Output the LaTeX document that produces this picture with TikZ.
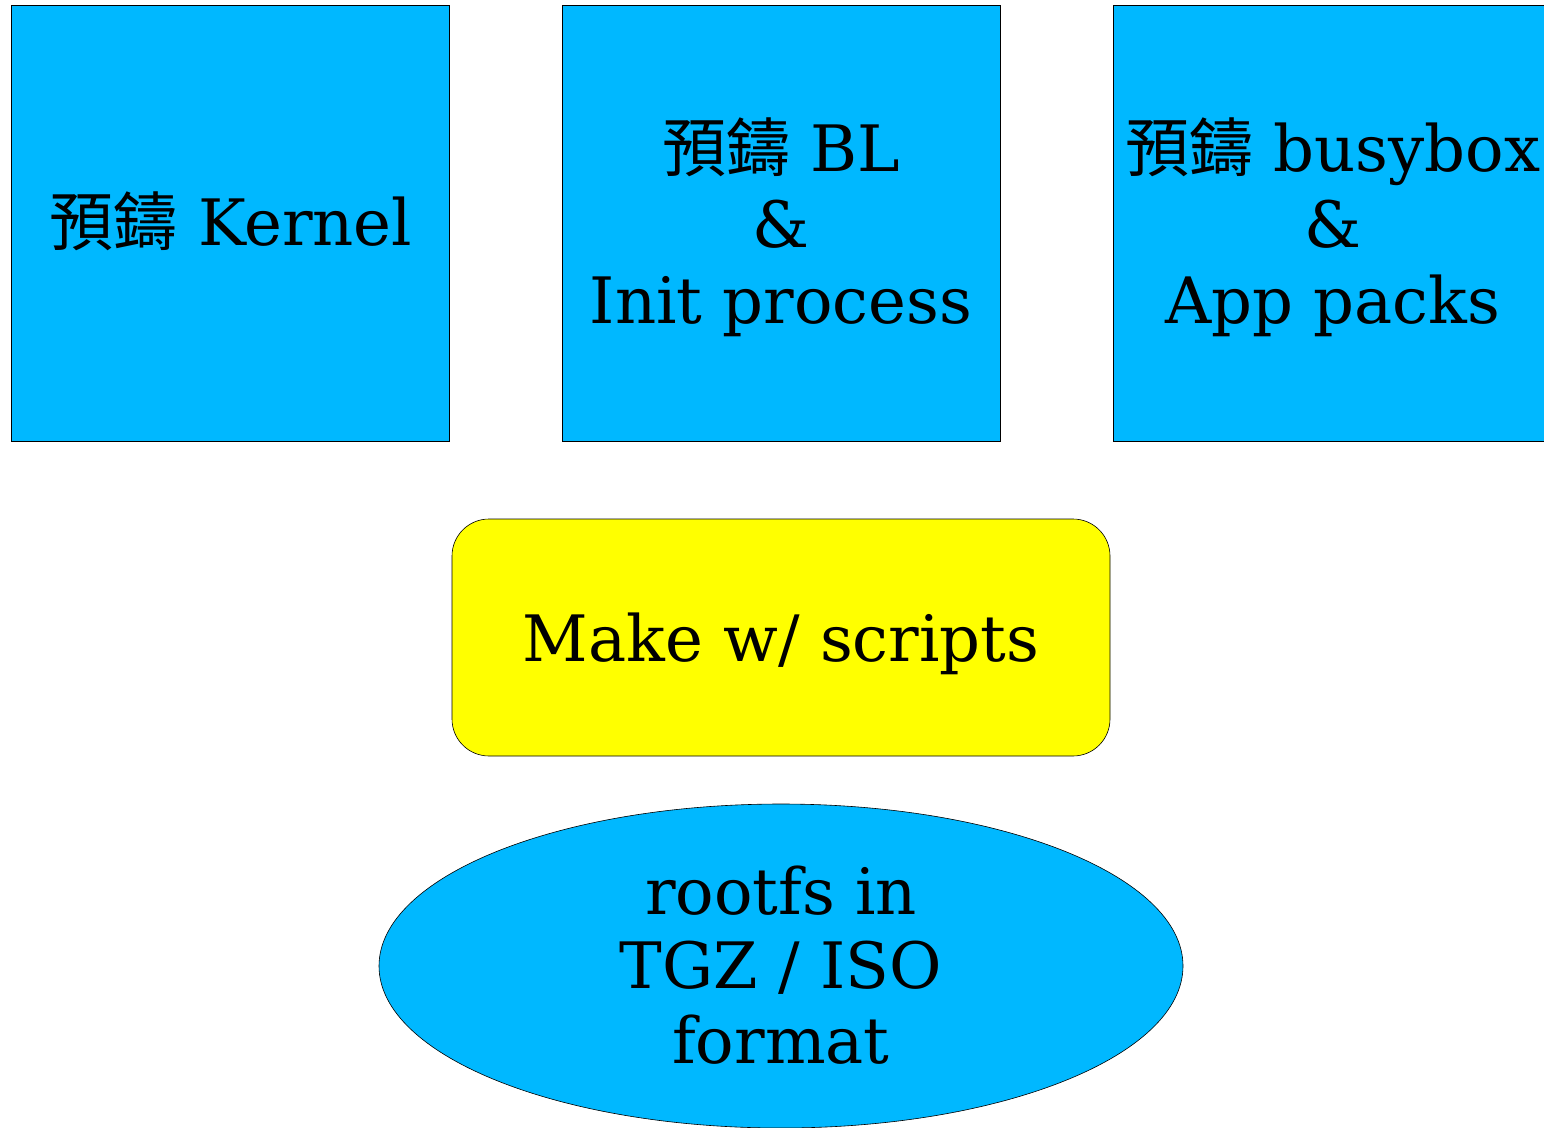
\documentclass[tikz,border=0pt]{standalone}
\usepackage{fontspec}
\setmainfont{DejaVu Serif}
\newfontfamily\cjk{Noto Sans CJK TC}
\usetikzlibrary{shapes.geometric}
\definecolor{skyfill}{HTML}{00B8FF}
\definecolor{yelfill}{HTML}{FFFF00}
\newcommand{\lines}[2][76]{\parbox[t]{700pt}{\centering\fontsize{64}{#1}\selectfont #2}}
\begin{document}
\begin{tikzpicture}[x=1pt,y=-1pt,
  bigtext/.style={anchor=base, inner sep=0pt, text=black, font=\fontsize{64}{76}\selectfont},
  bluebox/.style={rectangle, draw=black, line width=0.8pt, fill=skyfill, minimum width=438pt, minimum height=436pt, inner sep=0pt},
  makebox/.style={rectangle, rounded corners=37pt, draw=black, line width=0.6pt, fill=yelfill, minimum width=658pt, minimum height=237pt, inner sep=0pt},
  outblob/.style={ellipse, draw=black, line width=0.6pt, fill=skyfill, minimum width=804pt, minimum height=324pt, inner sep=0pt}]
\useasboundingbox (0,0) rectangle (1544,1127);
\clip (0,0) rectangle (1544,1127);
\node[bluebox] (kernel) at (230,223) {};
\node[bluebox] (bl) at (781,223) {};
\node[bluebox] (busy) at (1332,223) {};
\node[makebox] (make) at (781,637.5) {};
\node[outblob] (rootfs) at (781,966) {};
\node[bigtext] (kerneltext) at (231,245) {\lines{{\cjk 預鑄} Kernel}};
\node[bigtext] (bltext) at (781,171) {\lines{{\cjk 預鑄} BL\\\&\\Init process}};
\node[bigtext] (busytext) at (1333,171) {\lines{{\cjk 預鑄} busybox\\\&\\App packs}};
\node[bigtext] (maketext) at (781,661) {\lines{Make w/ scripts}};
\node[bigtext] (rootfstext) at (781,914) {\lines[74.5]{rootfs in\\TGZ / ISO\\format}};
\end{tikzpicture}
\end{document}
